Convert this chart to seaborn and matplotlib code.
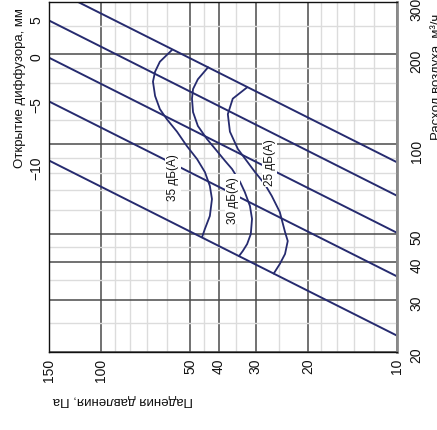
import numpy as np
import pandas as pd
import matplotlib
matplotlib.use("Agg")
import matplotlib.pyplot as plt
import seaborn as sns
from matplotlib.ticker import NullFormatter, NullLocator, FixedLocator

sns.set_style("white")
plt.rcParams["font.family"] = ["Liberation Sans", "DejaVu Sans"]

# ---- data ----
pressure_major = [10, 20, 30, 40, 50, 100, 150]
pressure_minor = [12, 14, 16, 18, 25, 35, 45, 60, 70, 80, 90]
flow_major = [20, 30, 40, 50, 100, 200, 300]
flow_minor = [25, 35, 45, 60, 70, 80, 90, 120, 140, 160, 180, 250]

diffuser_labels = ["", "5", "0", "−5", "−10"]
line_p_ends = [150, 10]
line_q_at_150 = [336, 260, 195, 139, 88]
line_q_at_10 = [86.8, 67.0, 50.3, 35.9, 22.7]

curve_35_p = [57.6, 63.3, 65.7, 66.8, 65.7, 63.3, 59.9, 55.4, 51.3, 47.4, 44.6, 42.9, 42.2, 42.9, 44.6, 45.6]
curve_35_q = [207, 189, 175, 162, 145, 131, 121, 110, 98.4, 89.0, 80.5, 72.3, 65.3, 57.3, 51.8, 48.6]
curve_30_p = [43.5, 47.1, 48.9, 49.3, 48.9, 47.1, 43.9, 40.6, 38.1, 36.1, 33.9, 32.7, 31.4, 30.9, 31.2, 32.1, 33.2, 34.2]
curve_30_q = [181, 165, 153, 142, 128, 115, 104, 94.7, 87.7, 82.4, 74.5, 69.0, 61.9, 56.0, 49.8, 46.1, 43.7, 42.0]
curve_25_p = [32.1, 35.9, 37.3, 36.7, 34.5, 30.2, 28.0, 26.5, 24.9, 23.9, 23.4, 23.9, 24.9, 26.1]
curve_25_q = [155, 142, 126, 110, 96.2, 80.5, 73.4, 66.9, 59.1, 50.6, 47.2, 42.7, 39.5, 36.7]

noise_labels = ["35 дБ(А)", "30 дБ(А)", "25 дБ(А)"]
noise_label_p = [57.2, 35.9, 26.9]
noise_label_q = [78, 65.3, 87]

navy = "#262b6f"

# ---- figure ----
W, H = 437, 431
fig = plt.figure(figsize=(W / 100, H / 100), dpi=100)
ax = fig.add_axes([49 / W, 1 - 353 / H, (397 - 49) / W, (353 - 3) / H])
ax.set_xscale("log")
ax.set_yscale("log")

lines_df = pd.DataFrame({
    "P": line_p_ends * len(line_q_at_150),
    "Q": [v for pair in zip(line_q_at_150, line_q_at_10) for v in pair],
    "line": [i for i in range(len(line_q_at_150)) for _ in range(2)],
})
sns.lineplot(data=lines_df, x="P", y="Q", units="line", estimator=None,
             color=navy, lw=1.4, ax=ax, legend=False)

curves_df = pd.concat([
    pd.DataFrame({"P": curve_35_p, "Q": curve_35_q, "c": "35"}),
    pd.DataFrame({"P": curve_30_p, "Q": curve_30_q, "c": "30"}),
    pd.DataFrame({"P": curve_25_p, "Q": curve_25_q, "c": "25"}),
])
sns.lineplot(data=curves_df, x="P", y="Q", units="c", estimator=None, sort=False,
             color=navy, lw=1.3, ax=ax, legend=False)

for lab, p, q in zip(noise_labels, noise_label_p, noise_label_q):
    ax.text(p, q, lab, rotation=90, ha="center", va="center", fontsize=8.5,
            color="#111111", zorder=6,
            bbox=dict(facecolor="white", edgecolor="none", pad=1.2))

ax.set_xlim(150, 10)
ax.set_ylim(20, 300)
ax.set_xlabel("")
ax.set_ylabel("")

ax.xaxis.set_major_locator(FixedLocator(pressure_major))
ax.xaxis.set_minor_locator(FixedLocator(pressure_minor))
ax.yaxis.set_major_locator(FixedLocator(flow_major))
ax.yaxis.set_minor_locator(FixedLocator(flow_minor))
ax.xaxis.set_minor_formatter(NullFormatter())
ax.yaxis.set_minor_formatter(NullFormatter())
ax.set_xticklabels([str(v) for v in pressure_major])
ax.set_yticklabels([str(v) for v in flow_major])

ax.grid(which="major", color="#4a4a4a", lw=1.1)
ax.grid(which="minor", color="#dcdcdc", lw=1.0)
ax.set_axisbelow(True)

for s in ["left", "bottom", "top"]:
    ax.spines[s].set_color("#111111")
    ax.spines[s].set_linewidth(1.0)
ax.spines["right"].set_color("#8a8a8a")
ax.spines["right"].set_linewidth(2.0)

ax2 = ax.twinx()
ax2.set_yscale("log")
ax2.set_ylim(20, 300)
ax2.yaxis.set_major_locator(FixedLocator(line_q_at_150[1:]))
ax2.yaxis.set_minor_locator(NullLocator())
ax2.set_yticklabels(diffuser_labels[1:])
ax2.yaxis.tick_left()
ax2.tick_params(axis="y", length=0, labelsize=10, labelrotation=90, pad=4, colors="#111111")
for s in ax2.spines.values():
    s.set_visible(False)

# main axis: airflow labels on the right (after twinx, which resets them)
ax.yaxis.tick_right()
ax.tick_params(axis="x", which="both", length=0, labelsize=10, labelrotation=90, pad=4, colors="#111111")
ax.tick_params(axis="y", which="both", length=0, labelsize=10, labelrotation=90, pad=9, colors="#111111",
               left=False, labelleft=False, right=False, labelright=True)

fig.text(20 / W, 1 - 88 / H, "Открытие диффузора, мм", rotation=90,
         ha="center", va="center", fontsize=9.5, color="#111111")
fig.text(123 / W, 1 - 400 / H, "Падения давления, Па", rotation=180,
         ha="center", va="center", fontsize=9.5, color="#111111")
fig.text(437 / W, 1 - 77 / H, "Расход воздуха, м³/ч", rotation=90,
         ha="center", va="center", fontsize=9.5, color="#111111")

fig.savefig("out.png", dpi=100, facecolor="white")
